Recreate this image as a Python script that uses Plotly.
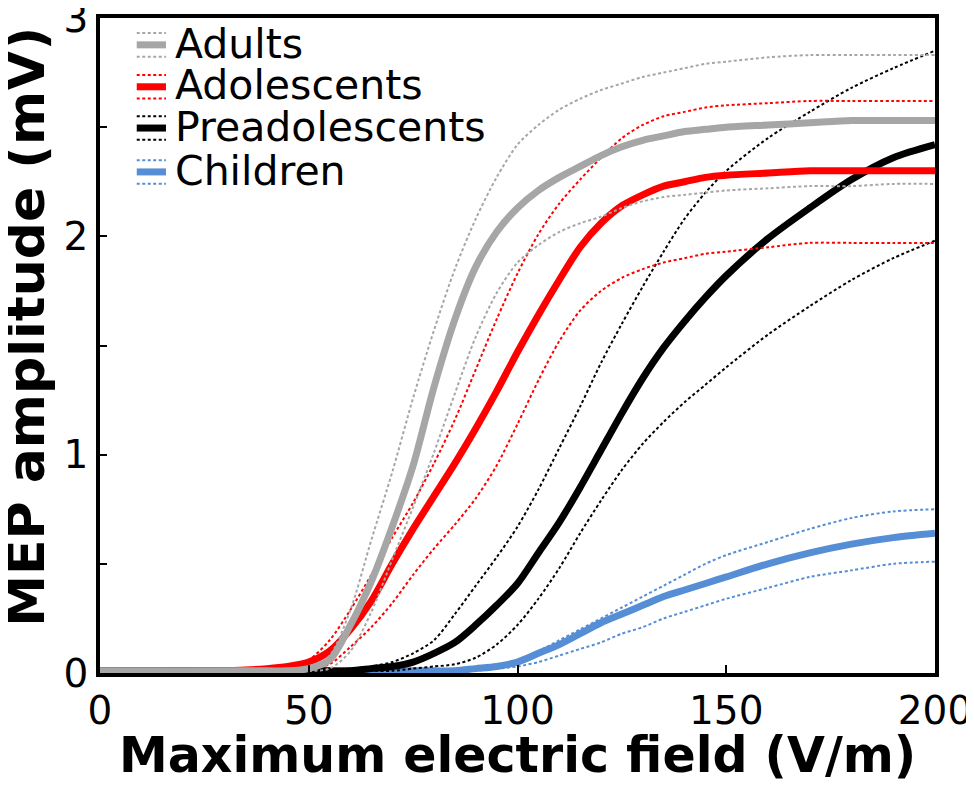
import plotly.graph_objects as go

# Electric field grid (V/m)
field = [0, 30, 40, 45, 50, 55, 60, 65, 70, 75, 80, 85, 90, 95, 100, 105, 110, 115,
         120, 125, 130, 135, 140, 145, 150, 160, 170, 180, 190, 200]

adults_mean = [0.01, 0.01, 0.01, 0.01, 0.02, 0.06, 0.22, 0.42, 0.67, 0.95, 1.31, 1.62, 1.86, 2.02,
               2.13, 2.21, 2.27, 2.32, 2.37, 2.41, 2.44, 2.46, 2.48, 2.49, 2.50, 2.51, 2.52, 2.53, 2.53, 2.53]
adults_upper = [0.01, 0.01, 0.01, 0.01, 0.02, 0.08, 0.29, 0.61, 0.92, 1.26, 1.57, 1.85, 2.08, 2.27,
                2.42, 2.51, 2.58, 2.63, 2.67, 2.70, 2.73, 2.75, 2.77, 2.79, 2.80, 2.82, 2.83, 2.83, 2.83, 2.83]
adults_lower = [0.01, 0.01, 0.01, 0.01, 0.01, 0.02, 0.10, 0.28, 0.52, 0.76, 1.01, 1.28, 1.54, 1.74,
                1.88, 1.96, 2.02, 2.06, 2.09, 2.13, 2.16, 2.18, 2.19, 2.20, 2.21, 2.22, 2.23, 2.23, 2.24, 2.24]

adol_mean = [0.01, 0.01, 0.02, 0.03, 0.05, 0.10, 0.20, 0.33, 0.50, 0.66, 0.81, 0.96, 1.12, 1.29,
             1.47, 1.64, 1.80, 1.95, 2.06, 2.14, 2.19, 2.23, 2.25, 2.27, 2.28, 2.29, 2.30, 2.30, 2.30, 2.30]
adol_upper = [0.01, 0.01, 0.02, 0.03, 0.06, 0.15, 0.29, 0.45, 0.62, 0.78, 0.96, 1.16, 1.39, 1.62,
              1.83, 2.01, 2.15, 2.26, 2.36, 2.45, 2.51, 2.55, 2.57, 2.59, 2.60, 2.61, 2.62, 2.62, 2.62, 2.62]
adol_lower = [0.01, 0.01, 0.01, 0.01, 0.02, 0.04, 0.12, 0.21, 0.32, 0.45, 0.57, 0.68, 0.80, 0.95,
              1.14, 1.34, 1.52, 1.66, 1.75, 1.81, 1.85, 1.88, 1.90, 1.92, 1.93, 1.95, 1.97, 1.97, 1.97, 1.97]

pread_mean = [0.01, 0.01, 0.01, 0.01, 0.01, 0.01, 0.01, 0.02, 0.03, 0.05, 0.09, 0.14, 0.22, 0.31,
              0.41, 0.55, 0.69, 0.85, 1.02, 1.19, 1.35, 1.49, 1.61, 1.72, 1.82, 1.99, 2.13, 2.26, 2.36, 2.42]
pread_upper = [0.01, 0.01, 0.01, 0.01, 0.01, 0.01, 0.01, 0.03, 0.05, 0.09, 0.15, 0.27, 0.40, 0.53,
               0.67, 0.84, 1.03, 1.22, 1.42, 1.60, 1.77, 1.93, 2.08, 2.20, 2.30, 2.45, 2.57, 2.68, 2.77, 2.85]
pread_lower = [0.01, 0.01, 0.01, 0.01, 0.01, 0.01, 0.01, 0.01, 0.01, 0.02, 0.03, 0.04, 0.07, 0.13,
               0.22, 0.34, 0.48, 0.64, 0.79, 0.93, 1.05, 1.15, 1.24, 1.32, 1.40, 1.55, 1.68, 1.80, 1.90, 1.98]

child_mean = [0.01, 0.01, 0.01, 0.01, 0.01, 0.01, 0.01, 0.01, 0.01, 0.01, 0.01, 0.01, 0.02, 0.03,
              0.05, 0.09, 0.13, 0.18, 0.23, 0.27, 0.31, 0.35, 0.38, 0.41, 0.44, 0.50, 0.55, 0.59, 0.62, 0.64]
child_upper = [0.01, 0.01, 0.01, 0.01, 0.01, 0.01, 0.01, 0.01, 0.01, 0.01, 0.01, 0.01, 0.02, 0.03,
               0.06, 0.10, 0.15, 0.20, 0.25, 0.30, 0.35, 0.40, 0.45, 0.50, 0.54, 0.60, 0.66, 0.71, 0.74, 0.75]
child_lower = [0.01, 0.01, 0.01, 0.01, 0.01, 0.01, 0.01, 0.01, 0.01, 0.01, 0.01, 0.01, 0.01, 0.02,
               0.03, 0.05, 0.08, 0.11, 0.14, 0.18, 0.21, 0.25, 0.28, 0.31, 0.34, 0.39, 0.44, 0.47, 0.50, 0.51]

groups = ["Adults", "Adolescents", "Preadolescents", "Children"]
colors = {"Adults": "#A6A6A6", "Adolescents": "#FF0000",
          "Preadolescents": "#000000", "Children": "#558ED5"}
series = {
    "Adults": (adults_mean, adults_upper, adults_lower),
    "Adolescents": (adol_mean, adol_upper, adol_lower),
    "Preadolescents": (pread_mean, pread_upper, pread_lower),
    "Children": (child_mean, child_upper, child_lower),
}

x_ticks = [0, 50, 100, 150, 200]
y_ticks = [0, 0.5, 1, 1.5, 2, 2.5, 3]
y_ticktext = ["0", "", "1", "", "2", "", "3"]

FONT = "DejaVu Sans"
DOT = "3px,2.5px"
THICK = 7

fig = go.Figure()
for g in reversed(groups):
    mean, upper, lower = series[g]
    c = colors[g]
    for band in (upper, lower):
        fig.add_trace(go.Scatter(x=field, y=band, mode="lines", showlegend=False,
                                 line=dict(color=c, width=2, dash=DOT,
                                           shape="spline", smoothing=0.8)))
    fig.add_trace(go.Scatter(x=field, y=mean, mode="lines", name=g, showlegend=False,
                             line=dict(color=c, width=THICK, shape="spline", smoothing=0.8)))

# custom legend (symbol: dotted / thick / dotted)
shapes = []
annotations = []
leg_x0, leg_x1 = 0.044, 0.079
row_y = [0.959, 0.895, 0.832, 0.765]
off = 0.018
for g, yy in zip(groups, row_y):
    c = colors[g]
    for dy in (off, -off):
        shapes.append(dict(type="line", xref="paper", yref="paper", x0=leg_x0, x1=leg_x1,
                           y0=yy + dy, y1=yy + dy, line=dict(color=c, width=2, dash=DOT)))
    shapes.append(dict(type="line", xref="paper", yref="paper", x0=leg_x0, x1=leg_x1,
                       y0=yy, y1=yy, line=dict(color=c, width=THICK)))
    annotations.append(dict(text=g, xref="paper", yref="paper", x=0.087, y=yy + 0.002,
                            xanchor="left", yanchor="middle", showarrow=False,
                            font=dict(family=FONT, size=41, color="black")))

annotations.append(dict(text="<b>Maximum electric field (V/m)</b>", xref="paper", yref="paper",
                        x=0.5, y=-0.126, xanchor="center", yanchor="middle", showarrow=False,
                        font=dict(family=FONT, size=49, color="black")))
annotations.append(dict(text="<b>MEP amplitude (mV)</b>", xref="paper", yref="paper",
                        x=-0.089, y=0.528, xanchor="center", yanchor="middle", showarrow=False,
                        textangle=-90, font=dict(family=FONT, size=52, color="black")))

# the page body adds an 8px margin, so the figure is sized to fit the 974x798 window
fig.update_layout(
    width=966, height=778,
    margin=dict(l=92, r=39, t=10, b=113),
    paper_bgcolor="white", plot_bgcolor="white",
    font=dict(family=FONT, color="black"),
    shapes=shapes, annotations=annotations,
    showlegend=False,
)
fig.update_xaxes(range=[0, 200], tickvals=x_ticks, ticks="inside", ticklen=8, tickwidth=2,
                 tickcolor="black", showline=True, linewidth=3.5, linecolor="black", mirror=True,
                 showgrid=False, zeroline=False, automargin=False, ticklabeloverflow="allow",
                 tickfont=dict(family=FONT, size=39, color="black"))
fig.update_yaxes(range=[0, 3], tickvals=y_ticks, ticktext=y_ticktext, ticks="inside", ticklen=7,
                 tickwidth=2, tickcolor="black", showline=True, linewidth=3.5, linecolor="black",
                 mirror=True, showgrid=False, zeroline=False, automargin=False,
                 ticklabeloverflow="allow",
                 tickfont=dict(family=FONT, size=39, color="black"))

fig.write_html("out.html")
